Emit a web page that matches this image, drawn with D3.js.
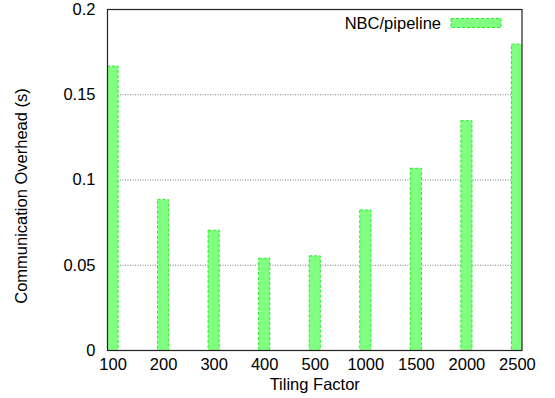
<!DOCTYPE html>
<html><head><meta charset="utf-8">
<script src="https://cdn.jsdelivr.net/npm/d3@7"></script>
<style>body{margin:0;background:#fff}svg{display:block}text{font-family:"Liberation Sans",Arial,Helvetica,sans-serif;fill:#000}</style>
</head><body>
<script>
const categories = ["100","200","300","400","500","1000","1500","2000","2500"];
const values = [0.1668, 0.0885, 0.0705, 0.0541, 0.0555, 0.0824, 0.1069, 0.1348, 0.1797];
const yTicks = [0, 0.05, 0.1, 0.15, 0.2];
const gridTicks = [0.05, 0.1, 0.15];
const seriesName = "NBC/pipeline";

const W = 555, H = 398;
const L = 107.5, R = 522, T = 9.5, B = 350.5;
const FS = "16.5px";
const svg = d3.select("body").append("svg").attr("width", W).attr("height", H);

const x = d3.scaleLinear().domain([-0.1, 8.1]).range([L, R]);
const y = d3.scaleLinear().domain([0, 0.2]).range([B, T]);
const bw = x(0.22) - x(0);

// grid
svg.append("g").selectAll("line").data(gridTicks).join("line")
  .attr("x1", L).attr("x2", R).attr("y1", d => y(d)).attr("y2", d => y(d))
  .attr("stroke", "#777").attr("stroke-width", 1).attr("stroke-dasharray", "1,1.5");

svg.append("clipPath").attr("id", "c").append("rect")
  .attr("x", L).attr("y", T).attr("width", R - L).attr("height", B - T);

const barColor = "#80ff80", edgeColor = "#22ee22";
svg.append("g").attr("clip-path", "url(#c)").selectAll("rect").data(values).join("rect")
  .attr("x", (d, i) => x(i) - bw / 2).attr("width", bw)
  .attr("y", d => y(d)).attr("height", d => B - y(d))
  .attr("fill", barColor).attr("stroke", edgeColor).attr("stroke-width", 1)
  .attr("stroke-dasharray", "3,2");

// border
svg.append("rect").attr("x", L).attr("y", T).attr("width", R - L).attr("height", B - T)
  .attr("fill", "none").attr("stroke", "#222").attr("stroke-width", 1.2);

// y axis labels
const yAxis = d3.axisLeft(y).tickValues(yTicks).tickSize(0).tickPadding(12)
  .tickFormat(d => String(+d.toFixed(2)));
const gy = svg.append("g").attr("transform", `translate(${L},0)`).call(yAxis);
gy.select(".domain").remove();
gy.selectAll("text").style("font-size", FS).attr("dy", "0.3em")
  .style("font-family", '"Liberation Sans",Arial,sans-serif').attr("fill", "#000");

// x axis labels
const xAxis = d3.axisBottom(x).tickValues(d3.range(categories.length)).tickSize(0).tickPadding(8)
  .tickFormat(i => categories[i]);
const gx = svg.append("g").attr("transform", `translate(0,${B})`).call(xAxis);
gx.select(".domain").remove();
gx.selectAll("text").style("font-size", FS).attr("dy", "0.71em")
  .style("font-family", '"Liberation Sans",Arial,sans-serif').attr("fill", "#000");

// axis titles
svg.append("text").attr("x", (L + R) / 2).attr("y", 390).attr("text-anchor", "middle")
  .style("font-size", FS).text("Tiling Factor");
svg.append("text").attr("transform", "translate(27,196) rotate(-90)").attr("text-anchor", "middle")
  .style("font-size", FS).text("Communication Overhead (s)");

// legend
svg.append("text").attr("x", 441).attr("y", 28.5).attr("text-anchor", "end")
  .style("font-size", FS).text(seriesName);
svg.append("rect").attr("x", 451).attr("y", 18.5).attr("width", 50).attr("height", 9)
  .attr("fill", barColor).attr("stroke", edgeColor).attr("stroke-width", 1).attr("stroke-dasharray", "3,2");
</script>
</body></html>
